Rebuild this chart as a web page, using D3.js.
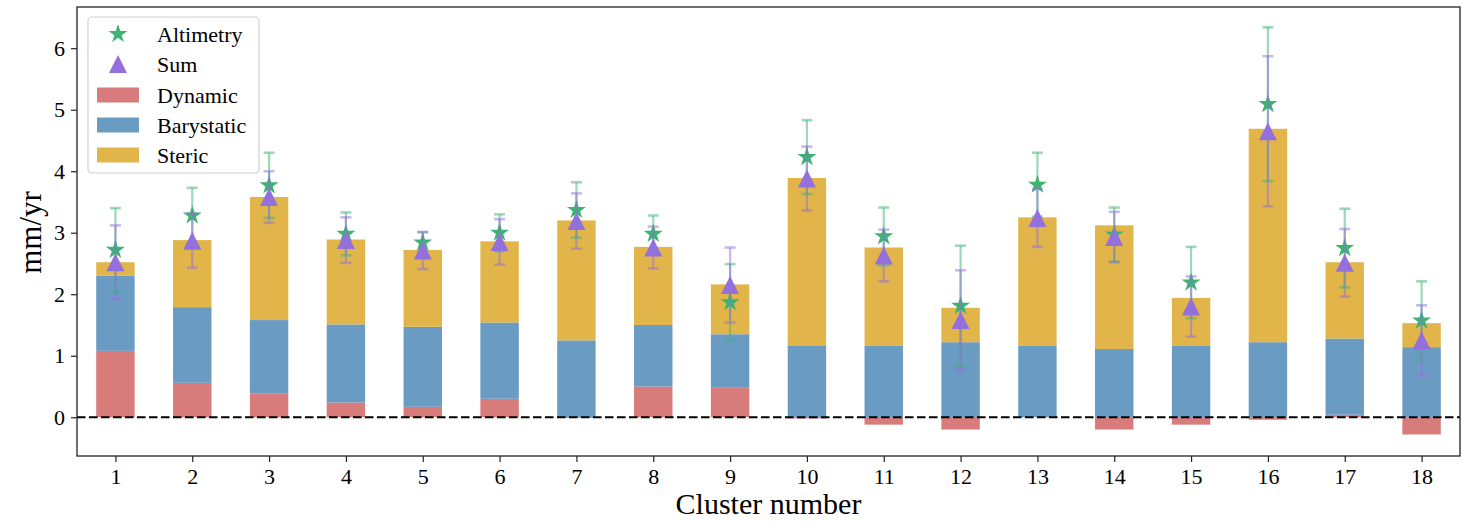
<!DOCTYPE html>
<html>
<head>
<meta charset="utf-8">
<script src="https://cdn.jsdelivr.net/npm/d3@7"></script>
<style>
  html, body { margin: 0; padding: 0; background: #fff; }
  svg { display: block; }
  text { font-family: "Liberation Serif", "DejaVu Serif", serif; fill: #000; }
</style>
</head>
<body>
<svg id="chart" width="1462" height="522"></svg>
<script>
// ---- data ----
const clusters   = [1,2,3,4,5,6,7,8,9,10,11,12,13,14,15,16,17,18];
const dynamic    = [1.08,0.56,0.39,0.24,0.17,0.30,-0.01,0.50,0.49,-0.02,-0.12,-0.20,0.00,-0.20,-0.12,-0.04,0.04,-0.28];
const barystatic = [1.22,1.23,1.19,1.27,1.30,1.24,1.25,1.00,0.86,1.17,1.16,1.22,1.16,1.11,1.16,1.22,1.24,1.14];
const steric     = [0.22,1.09,2.00,1.38,1.25,1.32,1.95,1.27,0.81,2.72,1.60,0.56,2.09,2.01,0.78,3.47,1.24,0.39];
const sumVals    = [2.52,2.87,3.58,2.88,2.71,2.85,3.19,2.76,2.15,3.88,2.63,1.58,3.24,2.93,1.80,4.65,2.51,1.25];
const sumErr     = [0.60,0.44,0.42,0.37,0.30,0.37,0.45,0.34,0.61,0.52,0.42,0.81,0.47,0.41,0.49,1.22,0.55,0.57];
const altimetry  = [2.72,3.28,3.77,2.98,2.84,3.00,3.37,2.98,1.87,4.23,2.94,1.81,3.78,2.97,2.19,5.09,2.75,1.57];
const altErr     = [0.68,0.45,0.53,0.35,0.17,0.30,0.45,0.30,0.62,0.60,0.47,0.98,0.52,0.44,0.58,1.25,0.64,0.64];
const yTicks     = [0,1,2,3,4,5,6];
const legendLabels = ["Altimetry","Sum","Dynamic","Barystatic","Steric"];

// ---- styles ----
const C = {
  dynamic: "#d77b7b", bary: "#6a9bc3", steric: "#e1b54a",
  alt: "#3cb371", sum: "#9370db"
};

const svg = d3.select("#chart");
const m = {left: 77, right: 1460, top: 7, bottom: 456};

const x = d3.scaleLinear().domain([0.5, 18.5]).range([m.left, m.right]);
const y = d3.scaleLinear().domain([-0.63, 6.67]).range([m.bottom, m.top]);
const barW = x(1.25) - x(0.75);

const rows = clusters.map((c, i) => {
  const d = dynamic[i];
  const b0 = Math.max(d, 0);
  return {c, d, b0, b1: b0 + barystatic[i], s1: b0 + barystatic[i] + steric[i],
          sum: sumVals[i], se: sumErr[i], alt: altimetry[i], ae: altErr[i]};
});

const g = svg.append("g");

// bars
g.selectAll("rect.dyn").data(rows).join("rect")
  .attr("x", r => x(r.c) - barW/2).attr("width", barW)
  .attr("y", r => y(Math.max(r.d, 0))).attr("height", r => Math.abs(y(r.d) - y(0)))
  .attr("fill", C.dynamic);
g.selectAll("rect.bar").data(rows).join("rect")
  .attr("x", r => x(r.c) - barW/2).attr("width", barW)
  .attr("y", r => y(r.b1)).attr("height", r => y(r.b0) - y(r.b1))
  .attr("fill", C.bary);
g.selectAll("rect.ste").data(rows).join("rect")
  .attr("x", r => x(r.c) - barW/2).attr("width", barW)
  .attr("y", r => y(r.s1)).attr("height", r => y(r.b1) - y(r.s1))
  .attr("fill", C.steric);

// zero line
g.append("line").attr("x1", m.left).attr("x2", m.right)
  .attr("y1", y(0)).attr("y2", y(0))
  .attr("stroke", "#000").attr("stroke-width", 2.2).attr("stroke-dasharray", "8.5,3.5");

function errorBars(key, errKey, color) {
  const eg = g.append("g").attr("stroke", color).attr("stroke-opacity", 0.5).attr("stroke-width", 2.2);
  rows.forEach(r => {
    const top = y(r[key] + r[errKey]), bot = y(r[key] - r[errKey]), cx = x(r.c);
    eg.append("line").attr("x1", cx).attr("x2", cx).attr("y1", top).attr("y2", bot);
    eg.append("line").attr("x1", cx - 5.5).attr("x2", cx + 5.5).attr("y1", top).attr("y2", top).attr("stroke-width", 2.6);
    eg.append("line").attr("x1", cx - 5.5).attr("x2", cx + 5.5).attr("y1", bot).attr("y2", bot).attr("stroke-width", 2.6);
  });
}
const starPath = d3.symbol().type(d3.symbolStar).size(112)();
function triPath(s) { const h = s/2; return `M0,${-h}L${h},${h}L${-h},${h}Z`; }

// altimetry
errorBars("alt", "ae", C.alt);
g.selectAll("path.star").data(rows).join("path")
  .attr("d", starPath).attr("fill", C.alt)
  .attr("transform", r => `translate(${x(r.c)},${y(r.alt)})`);
// sum
errorBars("sum", "se", C.sum);
g.selectAll("path.tri").data(rows).join("path")
  .attr("d", triPath(18)).attr("fill", C.sum)
  .attr("transform", r => `translate(${x(r.c)},${y(r.sum)})`);

// axes frame
svg.append("rect").attr("x", m.left).attr("y", m.top)
  .attr("width", m.right - m.left).attr("height", m.bottom - m.top)
  .attr("fill", "none").attr("stroke", "#222").attr("stroke-width", 1.3);

// x axis
const xAxis = d3.axisBottom(x).tickValues(clusters).tickSize(6).tickPadding(6).tickFormat(d3.format("d"));
const xg = svg.append("g").attr("transform", `translate(0,${m.bottom})`).call(xAxis);
xg.select(".domain").remove();
xg.selectAll("line").attr("stroke", "#222").attr("stroke-width", 1.2);
xg.selectAll("text").style("font-size", "22px").style("font-family", "Liberation Serif, serif");

// y axis
const yAxis = d3.axisLeft(y).tickValues(yTicks).tickSize(6).tickPadding(6).tickFormat(d3.format("d"));
const yg = svg.append("g").attr("transform", `translate(${m.left},0)`).call(yAxis);
yg.select(".domain").remove();
yg.selectAll("line").attr("stroke", "#222").attr("stroke-width", 1.2);
yg.selectAll("text").style("font-size", "22px").style("font-family", "Liberation Serif, serif");

// axis labels
svg.append("text").attr("x", (m.left + m.right)/2).attr("y", 514)
  .attr("text-anchor", "middle").style("font-size", "30px").text("Cluster number");
svg.append("text").attr("transform", `translate(41,${(m.top + m.bottom)/2 + 1}) rotate(-90)`)
  .attr("text-anchor", "middle").style("font-size", "31px").text("mm/yr");

// legend
const lg = svg.append("g");
lg.append("rect").attr("x", 88).attr("y", 17).attr("width", 171).attr("height", 156)
  .attr("rx", 4).attr("fill", "#fff").attr("fill-opacity", 0.85)
  .attr("stroke", "#d0d0d0").attr("stroke-width", 1.2);
const ly = [34, 64, 95, 125, 155];
lg.append("path").attr("d", starPath).attr("fill", C.alt).attr("transform", `translate(118,${ly[0]})`);
lg.append("path").attr("d", triPath(18)).attr("fill", C.sum).attr("transform", `translate(118,${ly[1]})`);
[C.dynamic, C.bary, C.steric].forEach((col, i) => {
  lg.append("rect").attr("x", 97).attr("y", ly[i+2] - 7.5).attr("width", 42).attr("height", 15).attr("fill", col);
});
legendLabels.forEach((t, i) => {
  lg.append("text").attr("x", 157).attr("y", ly[i]).attr("dy", "0.35em")
    .style("font-size", "22px").text(t);
});
</script>
</body>
</html>
